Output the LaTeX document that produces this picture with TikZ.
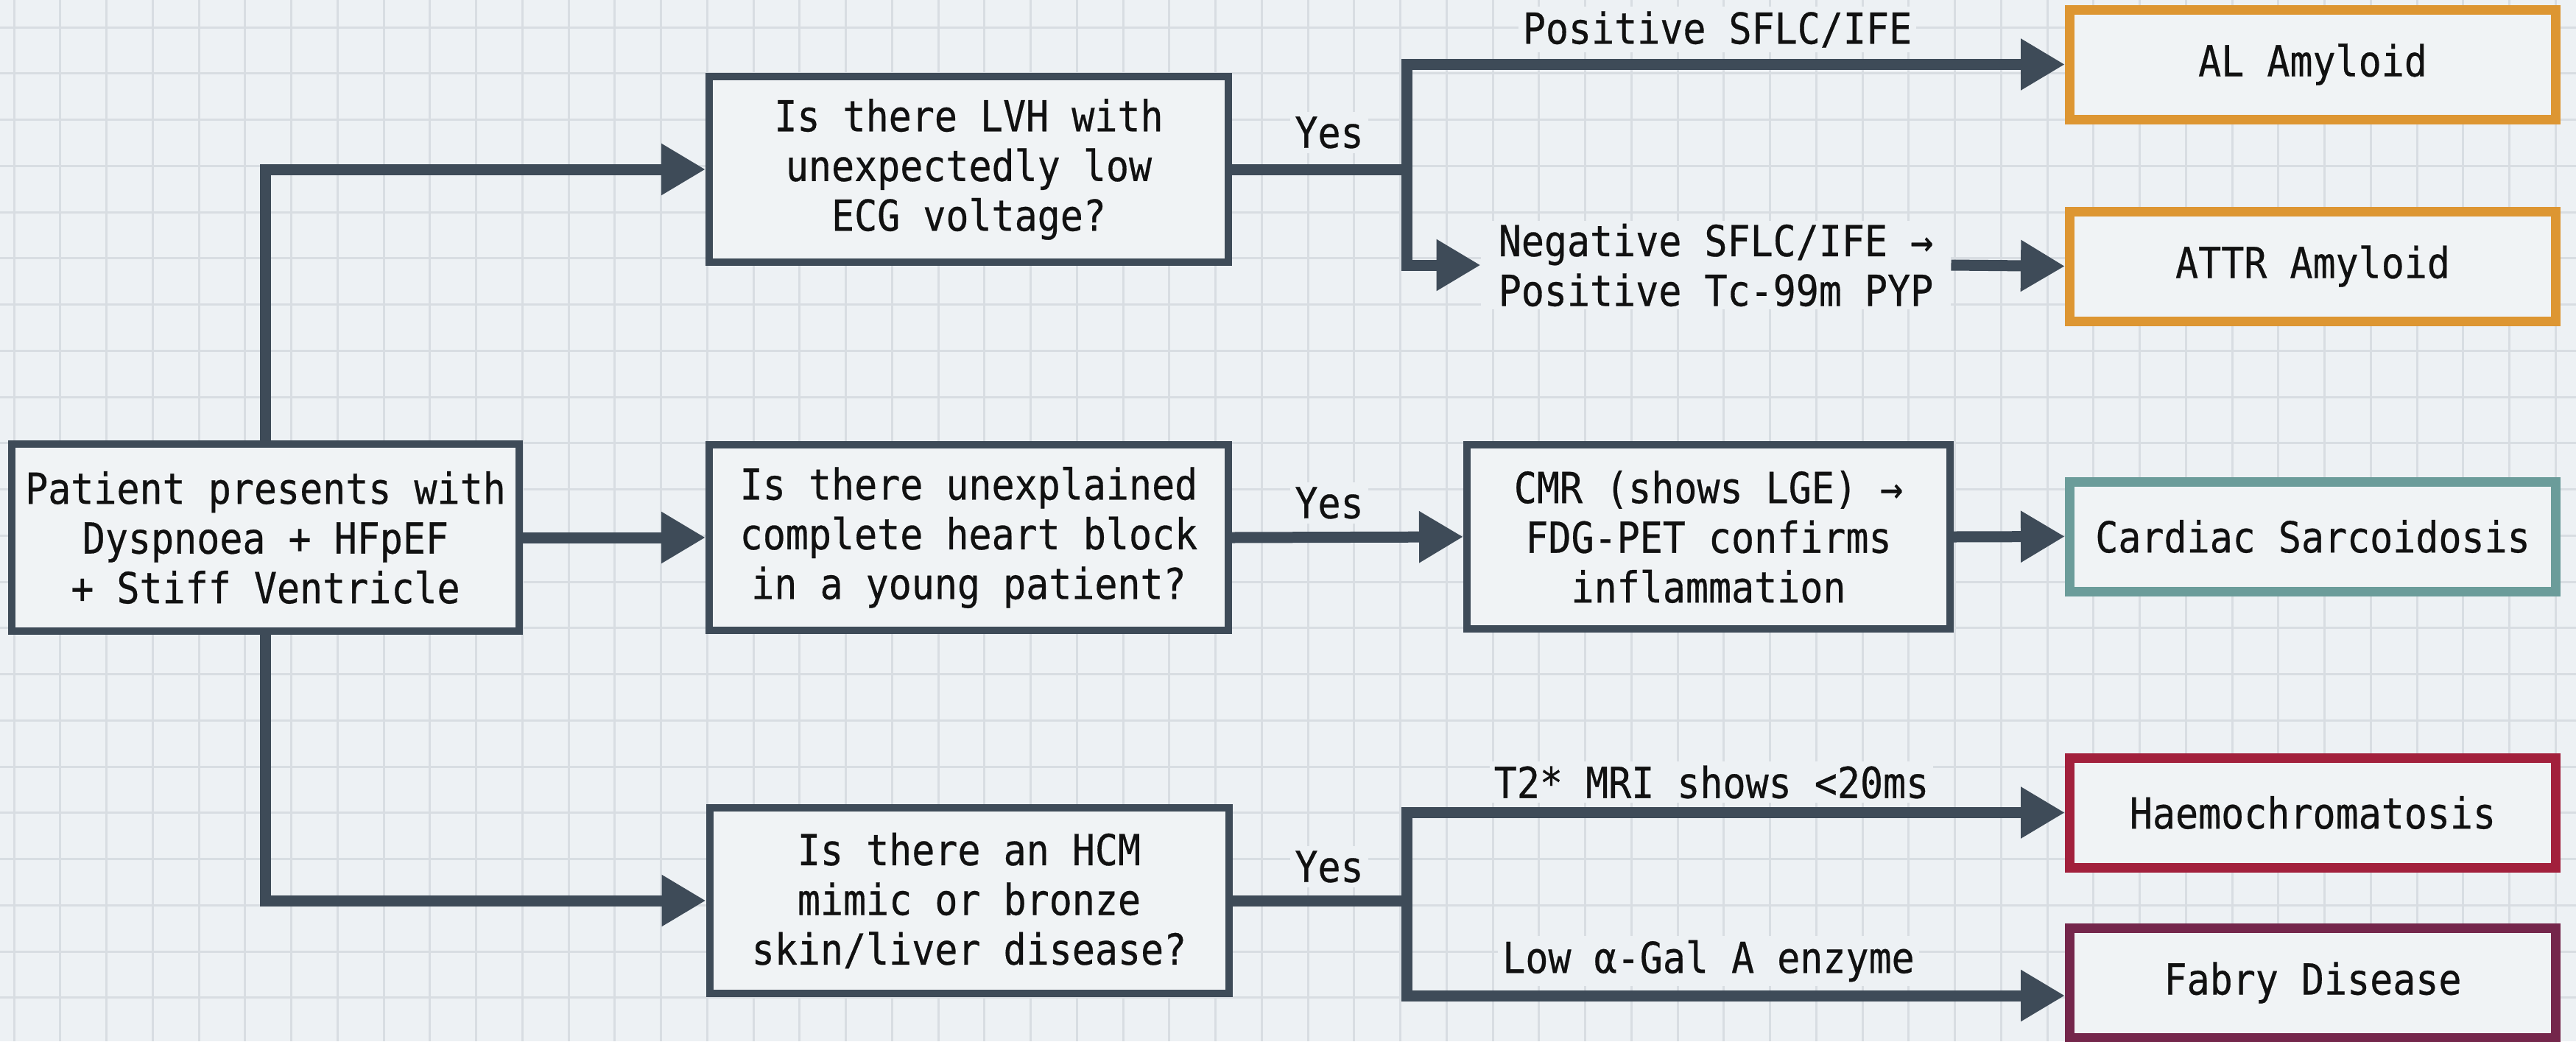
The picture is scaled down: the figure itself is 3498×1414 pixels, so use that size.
\documentclass[tikz,border=0pt]{standalone}
\usepackage{fontspec}
\setmainfont[FakeStretch=0.89,FakeBold=0.5]{DejaVu Sans Mono}
\usetikzlibrary{arrows.meta}
\definecolor{bgc}{HTML}{EDF1F4}
\definecolor{boxc}{HTML}{F0F3F5}
\definecolor{gridc}{HTML}{D8DDE2}
\definecolor{dark}{HTML}{3E4B58}
\definecolor{txt}{HTML}{111111}
\definecolor{orangec}{HTML}{DD9632}
\definecolor{tealc}{HTML}{6B9C9A}
\definecolor{redc}{HTML}{A2203C}
\definecolor{purpc}{HTML}{74264B}
\begin{document}
\begin{tikzpicture}[x=1pt,y=-1pt,
  font=\fontsize{58}{67.5}\selectfont,
  box/.style={draw=dark, line width=10pt, fill=boxc, align=center, inner sep=0pt, text=txt},
  res/.style={line width=13pt, fill=boxc, align=center, inner sep=0pt, text=txt,
    minimum width=660pt, minimum height=149pt},
  conn/.style={draw=dark, line width=15pt},
  arr/.style={conn, -{Triangle[length=60pt,width=66pt]}},
  lab/.style={fill=bgc, inner sep=6pt, text=txt, align=center}]
\useasboundingbox (0,0) rectangle (3498,1414);
\fill[bgc] (0,0) rectangle (3498,1414);
\foreach \i in {0,...,55} \draw[gridc, line width=3pt] ({19+\i*62.75},0) -- ({19+\i*62.75},1414);
\foreach \j in {0,...,22} \draw[gridc, line width=3pt] (0,{37+\j*62.75}) -- (3498,{37+\j*62.75});

% main boxes
\node[box, minimum width=689pt, minimum height=254pt] (start) at (360.5,730)
  {Patient presents with\\Dyspnoea + HFpEF\\+ Stiff Ventricle};
\node[box, minimum width=705pt, minimum height=252pt] (q1) at (1315.5,230)
  {Is there LVH with\\unexpectedly low\\ECG voltage?};
\node[box, minimum width=705pt, minimum height=252pt] (q2) at (1315.5,730)
  {Is there unexplained\\complete heart block\\in a young patient?};
\node[box, minimum width=705pt, minimum height=252pt] (q3) at (1316,1223)
  {Is there an HCM\\mimic or bronze\\skin/liver disease?};
\node[box, minimum width=656pt, minimum height=250pt] (cmr) at (2320,729)
  {CMR (shows LGE) →\\FDG-PET confirms\\inflammation};

% result boxes
\node[res, draw=orangec] (al) at (3140.5,87.5) {AL Amyloid};
\node[res, draw=orangec] (attr) at (3140.5,361.5) {ATTR Amyloid};
\node[res, draw=tealc] (sarc) at (3140.5,728.5) {Cardiac Sarcoidosis};
\node[res, draw=redc] (haemo) at (3140.5,1103.5) {Haemochromatosis};
\node[res, draw=purpc] (fabry) at (3140.5,1334.5) {Fabry Disease};

% labels
\node[lab] (y1) at (1805,180) {Yes};
\node[lab] (y2) at (1805,683) {Yes};
\node[lab] (y3) at (1805,1177) {Yes};
\node[lab] (p1) at (2332,40) {Positive SFLC/IFE};
\node[lab, inner xsep=24pt, inner ysep=4pt] (neg) at (2330,360) {Negative SFLC/IFE →\\Positive Tc-99m PYP};
\node[lab] (t2) at (2324,1062) {T2* MRI shows <20ms};
\node[lab] (lowa) at (2320,1305) {Low α-Gal A enzyme};

% junctions
\coordinate (j1) at (1910,230);
\coordinate (j3) at (1910,1223);
\coordinate (fj) at (1910,1352);

% connectors
\draw[arr] (start.north) |- (q1.west);
\draw[arr] (start.east) -- (q2.west);
\draw[arr] (start.south) |- (q3.west);

\draw[conn] (q1.east) -- (j1);
\draw[arr] (j1) |- (al.west);
\draw[arr] (j1) |- (neg.west);
\draw[arr] (neg.east) -- (attr.west);

\draw[arr] (q2.east) -- (cmr.west);
\draw[arr] (cmr.east) -- (sarc.west);

\draw[conn] (q3.east) -- (j3);
\draw[arr] (j3) |- (haemo.west);
\draw[arr] (j3) -- (fj) -- (fj -| fabry.west);
\end{tikzpicture}
\end{document}
